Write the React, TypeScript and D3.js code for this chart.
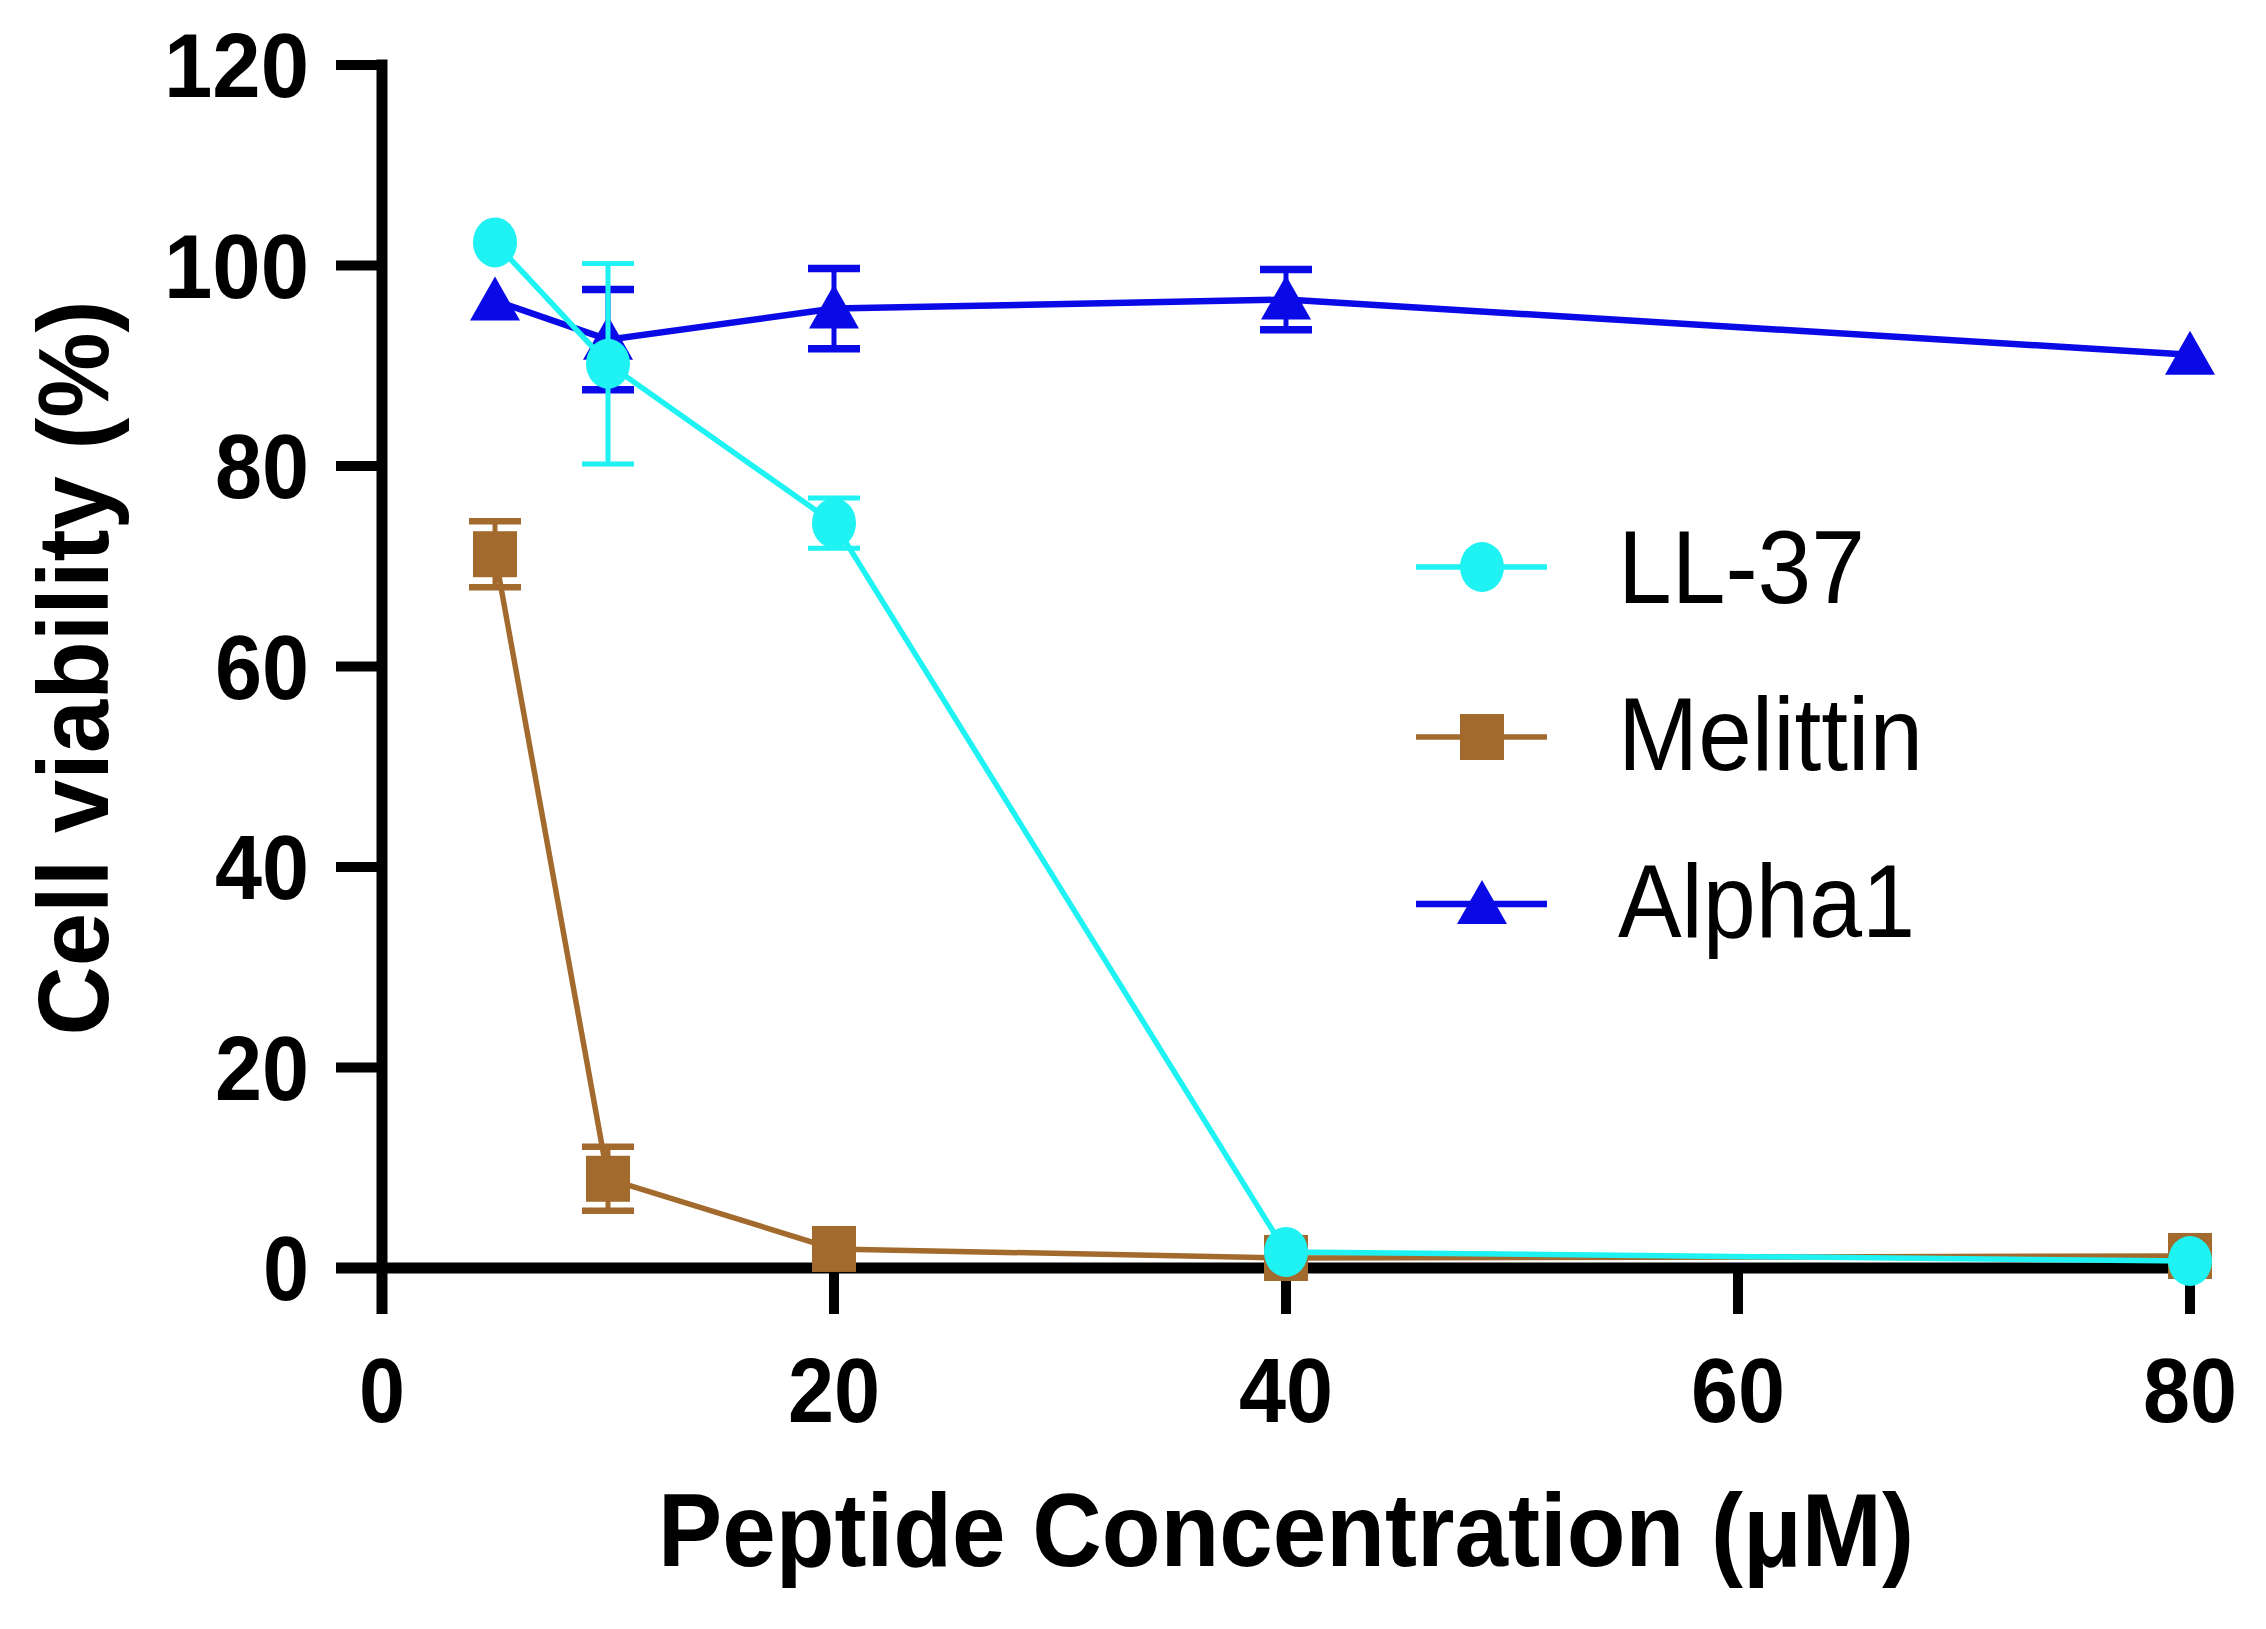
import React from "react";
import * as d3 from "d3";

const concentrations = [5, 10, 20, 40, 80];
const ll37 = [102.3, 90.2, 74.3, 1.6, 0.7];
const ll37Err = [0, 10, 2.5, 0, 0];
const melittin = [71.2, 8.9, 1.9, 1.0, 1.2];
const melittinErr = [3.3, 3.2, 0, 0, 0];
const alpha1 = [96.5, 92.6, 95.7, 96.6, 91.1];
const alpha1Err = [0, 5, 4, 3, 0];
const xTicks = [0, 20, 40, 60, 80];
const yTicks = [0, 20, 40, 60, 80, 100, 120];
const seriesNames = ["LL-37", "Melittin", "Alpha1"];

const W = 2266;
const H = 1629;
const FONT = "'Liberation Sans', Arial, Helvetica, sans-serif";

const x = d3.scaleLinear().domain([0, 80]).range([382, 2190]);
const y = d3.scaleLinear().domain([0, 120]).range([1268, 65]);

type Series = {
  name: string;
  values: number[];
  err: number[];
  color: string;
  lineWidth: number;
  errWidth: number;
  shape: "circle" | "square" | "triangle";
};

const series: Series[] = [
  { name: seriesNames[1], values: melittin, err: melittinErr, color: "#A36A2D", lineWidth: 5.5, errWidth: 6.5, shape: "square" },
  { name: seriesNames[2], values: alpha1, err: alpha1Err, color: "#0A0AE6", lineWidth: 6.5, errWidth: 7.5, shape: "triangle" },
  { name: seriesNames[0], values: ll37, err: ll37Err, color: "#1EF2F2", lineWidth: 5.5, errWidth: 5, shape: "circle" },
];

function Marker({ shape, cx, cy, color }: { shape: string; cx: number; cy: number; color: string }) {
  if (shape === "circle") return <ellipse cx={cx} cy={cy} rx={22} ry={25} fill={color} />;
  if (shape === "square") return <rect x={cx - 22} y={cy - 23} width={44} height={46} fill={color} />;
  const w = 25, h = 22;
  return <path d={`M${cx},${cy - h - 2}L${cx + w},${cy + h - 2}L${cx - w},${cy + h - 2}Z`} fill={color} />;
}

export default function App() {
  const line = d3
    .line<number>()
    .x((_, i) => x(concentrations[i]))
    .y((v) => y(v));

  const legendRows = [
    { s: series[2], ly: 567, ty: 603, len: 247 },
    { s: series[0], ly: 737, ty: 770, len: 305 },
    { s: series[1], ly: 904, ty: 937, len: 297 },
  ];

  const xLabelLen: Record<number, number> = { 0: 46, 20: 92, 40: 94, 60: 94, 80: 94 };
  const yLabelLen: Record<number, number> = { 0: 46, 20: 94, 40: 94, 60: 94, 80: 94, 100: 145, 120: 145 };

  return (
    <svg
      width={W}
      height={H}
      viewBox={`0 0 ${W} ${H}`}
      style={{ position: "absolute", left: 0, top: 0, display: "block", background: "#fff" }}
    >
      <rect x={0} y={0} width={W} height={H} fill="#fff" />
      {/* Axes */}
      <g stroke="#000" strokeWidth={11} fill="none">
        <line x1={x(0)} x2={x(0)} y1={y(120) - 5.5} y2={y(0) + 46} />
        <line x1={x(0) - 46} x2={x(80) + 5.5} y1={y(0)} y2={y(0)} />
        {yTicks.map((t) => (
          <line key={"yt" + t} x1={x(0) - 46} x2={x(0)} y1={y(t)} y2={y(t)} strokeWidth={10} />
        ))}
        {xTicks.map((t) => (
          <line key={"xt" + t} x1={x(t)} x2={x(t)} y1={y(0)} y2={y(0) + 46} strokeWidth={10} />
        ))}
      </g>
      <g fontFamily={FONT} fontWeight="bold" fontSize={90} fill="#000">
        {yTicks.map((t) => (
          <text
            key={"yl" + t}
            x={309}
            y={y(t) + 32}
            textAnchor="end"
            textLength={yLabelLen[t]}
            lengthAdjust="spacingAndGlyphs"
          >
            {t}
          </text>
        ))}
        {xTicks.map((t) => (
          <text
            key={"xl" + t}
            x={x(t)}
            y={1422}
            textAnchor="middle"
            textLength={xLabelLen[t]}
            lengthAdjust="spacingAndGlyphs"
          >
            {t}
          </text>
        ))}
      </g>
      {/* Axis titles */}
      <text
        x={1286}
        y={1566}
        textAnchor="middle"
        fontFamily={FONT}
        fontWeight="bold"
        fontSize={104}
        textLength={1256}
        lengthAdjust="spacingAndGlyphs"
      >
        Peptide Concentration (μM)
      </text>
      <text
        transform={`translate(108,668) rotate(-90)`}
        textAnchor="middle"
        fontFamily={FONT}
        fontWeight="bold"
        fontSize={100}
        textLength={735}
        lengthAdjust="spacingAndGlyphs"
      >
        Cell viability (%)
      </text>

      {/* Series */}
      {series.map((s) => (
        <g key={s.name}>
          <path d={line(s.values) || ""} fill="none" stroke={s.color} strokeWidth={s.lineWidth} />
          {s.values.map((v, i) =>
            s.err[i] > 0 ? (
              <g key={"e" + i} stroke={s.color} strokeWidth={s.errWidth}>
                <line x1={x(concentrations[i])} x2={x(concentrations[i])} y1={y(v + s.err[i])} y2={y(v - s.err[i])} strokeWidth={5} />
                <line x1={x(concentrations[i]) - 26} x2={x(concentrations[i]) + 26} y1={y(v + s.err[i])} y2={y(v + s.err[i])} />
                <line x1={x(concentrations[i]) - 26} x2={x(concentrations[i]) + 26} y1={y(v - s.err[i])} y2={y(v - s.err[i])} />
              </g>
            ) : null
          )}
          {s.values.map((v, i) => (
            <Marker key={"m" + i} shape={s.shape} cx={x(concentrations[i])} cy={y(v)} color={s.color} />
          ))}
        </g>
      ))}

      {/* Legend */}
      {legendRows.map(({ s, ly, ty, len }, k) => (
        <g key={"lg" + k}>
          <line x1={1416} x2={1547} y1={ly} y2={ly} stroke={s.color} strokeWidth={s.lineWidth} />
          <Marker shape={s.shape} cx={1482} cy={ly} color={s.color} />
          <text
            x={1618}
            y={ty}
            fontFamily={FONT}
            fontSize={104}
            fill="#000"
            textLength={len}
            lengthAdjust="spacingAndGlyphs"
          >
            {s.name}
          </text>
        </g>
      ))}
    </svg>
  );
}
